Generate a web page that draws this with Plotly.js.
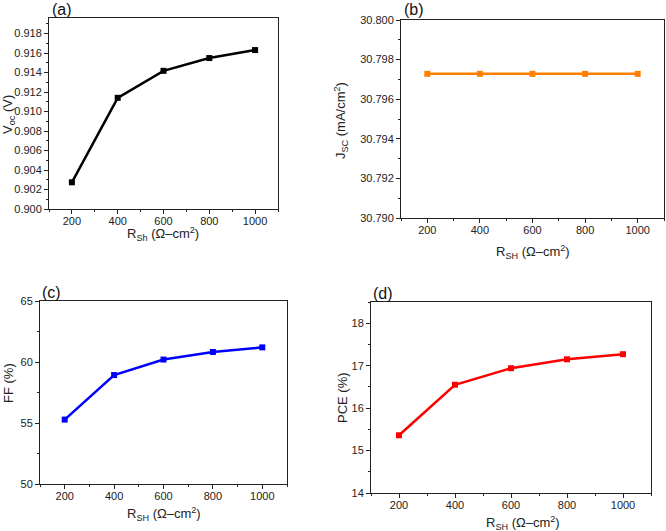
<!DOCTYPE html>
<html><head><meta charset="utf-8">
<script src="https://cdn.plot.ly/plotly-3.0.1.min.js"></script>
<style>html,body{margin:0;padding:0;background:#fff}#chart{width:666px;height:531px}</style>
</head><body><div id="chart"></div>
<script>
const rsh = [200, 400, 600, 800, 1000];
const voc = [0.90274, 0.91141, 0.91418, 0.91549, 0.91631];
const jsc = [30.79728, 30.79728, 30.79728, 30.79728, 30.79728];
const ff = [55.28, 58.93, 60.2, 60.82, 61.2];
const pce = [15.36, 16.55, 16.94, 17.15, 17.27];
const panelLabels = ['(a)', '(b)', '(c)', '(d)'];
const xTitles = ['R<sub>Sh</sub> (Ω–cm<sup>2</sup>)', 'R<sub>SH</sub> (Ω–cm<sup>2</sup>)', 'R<sub>SH</sub> (Ω–cm<sup>2</sup>)', 'R<sub>SH</sub> (Ω–cm<sup>2</sup>)'];
const yTitles = ['V<sub>oc</sub> (V)', 'J<sub>SC</sub> (mA/cm<sup>2</sup>)', 'FF (%)', 'PCE (%)'];
const colors = ['#000000', '#FF7F00', '#0000FF', '#FF0000'];

const W = 666, H = 531;
const boxes = [
  {x0: 49, x1: 278, y0: 18, y1: 209, lx: 50, ly: 10, xt: [163, 234], yt: [8, 115]},
  {x0: 401, x1: 664, y0: 20, y1: 218, lx: 402, ly: 10, xt: [533, 252], yt: [341, 120]},
  {x0: 40, x1: 287, y0: 301, y1: 484, lx: 40, ly: 292, xt: [164, 514], yt: [8, 383]},
  {x0: 371, x1: 651, y0: 302, y1: 493, lx: 371, ly: 293, xt: [523, 523], yt: [342, 398]}
];
const yRanges = [[0.900, 0.9196], [30.790, 30.800], [50, 65], [14, 18.5]];
const yDtick = [0.002, 0.002, 5, 1];
const yTickFmt = ['.3f', '.3f', 'd', 'd'];
const series = [voc, jsc, ff, pce];

const font = 'Liberation Sans, Arial, sans-serif';
const traces = [];
const layout = {
  width: W, height: H, margin: {l: 0, r: 0, t: 0, b: 0},
  paper_bgcolor: '#fff', plot_bgcolor: '#fff', showlegend: false,
  font: {family: font, color: '#222', size: 11},
  annotations: []
};
const px = (x) => x / W, py = (y) => 1 - y / H;
series.forEach((ys, i) => {
  const n = i === 0 ? '' : String(i + 1);
  traces.push({
    x: rsh, y: ys, xaxis: 'x' + n, yaxis: 'y' + n, type: 'scatter', mode: 'lines+markers',
    line: {color: colors[i], width: 2.5}, marker: {symbol: 'square', size: 6, color: colors[i]}
  });
  const b = boxes[i];
  const common = {showline: true, mirror: true, linecolor: '#222', linewidth: 1, showgrid: false, zeroline: false,
    ticks: 'outside', ticklen: 4, tickcolor: '#222', tickfont: {family: font, size: 11, color: '#222'}};
  layout['xaxis' + n] = Object.assign({}, common, {
    domain: [px(b.x0), px(b.x1)], anchor: 'y' + n, range: [100, 1100], ticklabelstandoff: -2,
    tickvals: rsh, minor: {ticks: 'outside', ticklen: 2, tickcolor: '#222', dtick: 100, tick0: 100}
  });
  layout['yaxis' + n] = Object.assign({}, common, {
    domain: [py(b.y1), py(b.y0)], anchor: 'x' + n, range: yRanges[i],
    dtick: yDtick[i], tick0: yRanges[i][0], tickformat: yTickFmt[i],
    minor: {ticks: 'outside', ticklen: 2, tickcolor: '#222', dtick: yDtick[i] / 2}
  });
  layout.annotations.push({
    text: panelLabels[i], xref: 'paper', yref: 'paper', x: px(b.lx), y: py(b.ly),
    xanchor: 'left', yanchor: 'middle', showarrow: false, font: {family: font, size: 16, color: '#111'}
  });
  layout.annotations.push({
    text: xTitles[i], xref: 'paper', yref: 'paper', x: px(b.xt[0]), y: py(b.xt[1]),
    xanchor: 'center', yanchor: 'middle', showarrow: false, font: {family: font, size: 13, color: '#222'}
  });
  layout.annotations.push({
    text: yTitles[i], xref: 'paper', yref: 'paper', x: px(b.yt[0]), y: py(b.yt[1]), textangle: -90,
    xanchor: 'center', yanchor: 'middle', showarrow: false, font: {family: font, size: 13, color: '#222'}
  });
});
Plotly.newPlot('chart', traces, layout, {staticPlot: true});
</script></body></html>
